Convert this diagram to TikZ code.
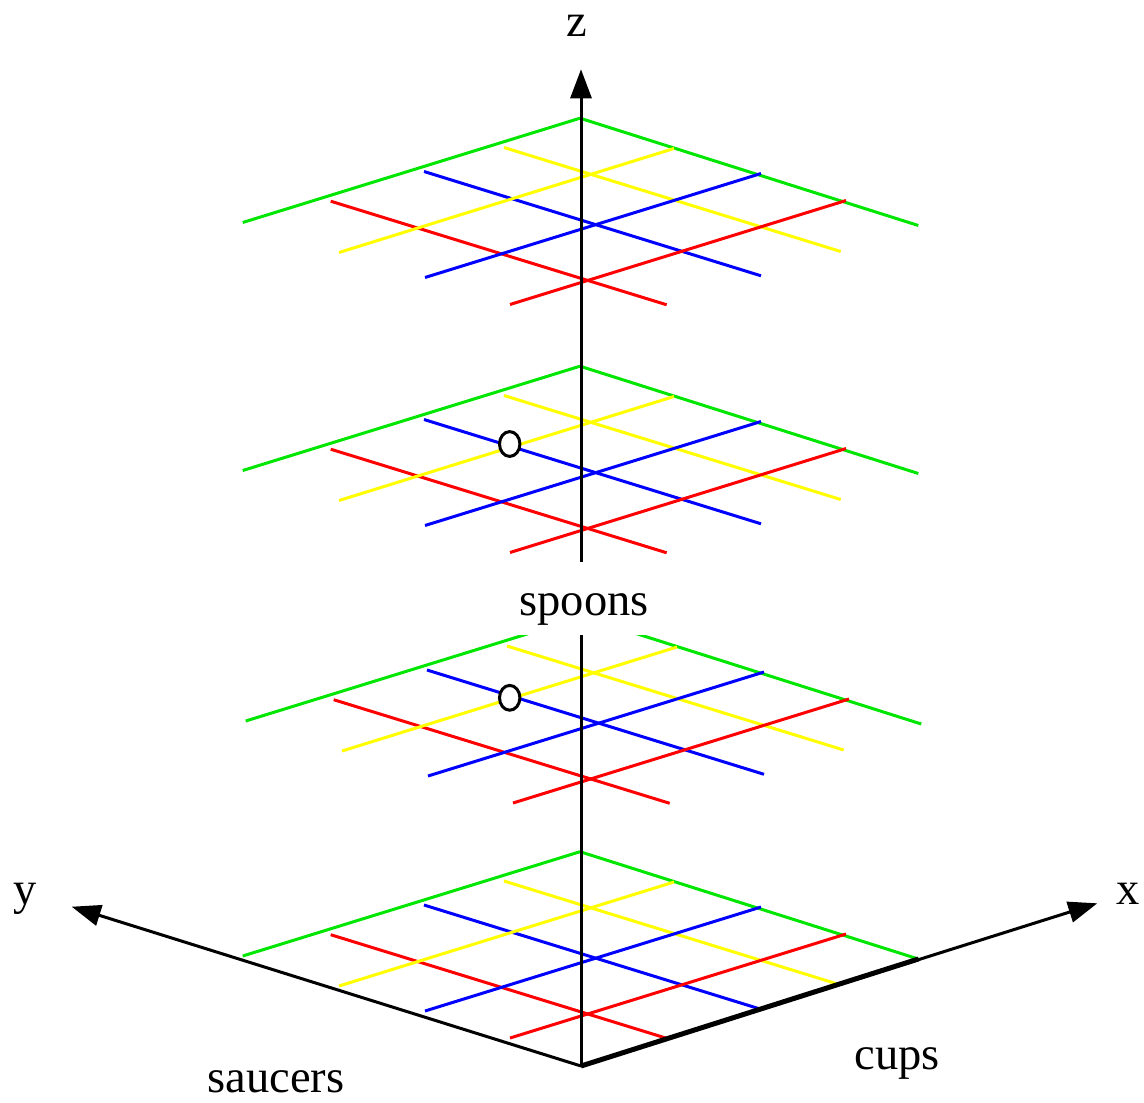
\documentclass[tikz,border=0pt]{standalone}
\usepackage{fontspec}
\setmainfont{Liberation Serif}
\usetikzlibrary{arrows.meta}
\definecolor{gridred}{RGB}{255,0,0}
\definecolor{gridblue}{RGB}{0,0,255}
\definecolor{gridyellow}{RGB}{255,255,0}
\definecolor{gridgreen}{RGB}{0,230,0}
\newcommand{\gridlayer}[2]{%
  \begin{scope}[shift={(#1,#2)}]
    \draw[gl, gridred]    (330.7,934.7) -- (666.7,1038.3);
    \draw[gl, gridblue]   (424,905)     -- (761,1009.3);
    \draw[gl, gridyellow] (504,881)     -- (840.7,985);
    \draw[gl, gridgreen]  (580,851.7)   -- (918.3,959);
    \draw[gl, gridred]    (510,1038)    -- (846,934);
    \draw[gl, gridblue]   (425,1011)    -- (761,907);
    \draw[gl, gridyellow] (339,986)     -- (674,882);
    \draw[gl, gridgreen]  (242.7,956)   -- (580,851.7);
  \end{scope}}
\begin{document}
\begin{tikzpicture}[x=0.5pt,y=-0.5pt,
  gl/.style={line width=1.5pt},
  axisline/.style={line width=1.5pt, -{Triangle[length=14.5pt,width=10.5pt]}},
  lbl/.style={font=\fontsize{23.25}{28}\selectfont, inner sep=0pt, anchor=base},
  dotmark/.style={line width=1.5pt, draw=black, fill=white}]
\useasboundingbox (0,0) rectangle (1144,1102);
% grid layers
\gridlayer{0}{0}
\gridlayer{3}{-235}
\gridlayer{0}{-485.5}
\gridlayer{0}{-733.5}
% axes
\coordinate (O) at (581,1066);
\coordinate (xtip) at (1097.3,903.3);
\coordinate (ytip) at (71.7,906.7);
\coordinate (ztip) at (581,69.3);
\coordinate (xfour) at (918.3,959);
\draw[axisline] (O) -- (xtip);
\draw[line width=2.5pt] (O) -- (xfour);
\draw[axisline] (O) -- (ytip);
\draw[axisline] (O) -- (ztip);
% markers
\draw[dotmark] (509.7,444) ellipse [x radius=5.1pt, y radius=6.2pt];
\draw[dotmark] (509.7,697.8) ellipse [x radius=5.1pt, y radius=6.2pt];
% labels
\node[lbl, fill=white, text height=26.5pt, text depth=10pt, minimum width=75pt] (spoons) at (584,615) {spoons};
\node[lbl] (zlabel) at (577,36.7) {z};
\node[lbl] (ylabel) at (25,904) {y};
\node[lbl] (xlabel) at (1128,904) {x};
\node[lbl] (cups) at (897,1069) {cups};
\node[lbl] (saucers) at (276,1092) {saucers};
\end{tikzpicture}
\end{document}
